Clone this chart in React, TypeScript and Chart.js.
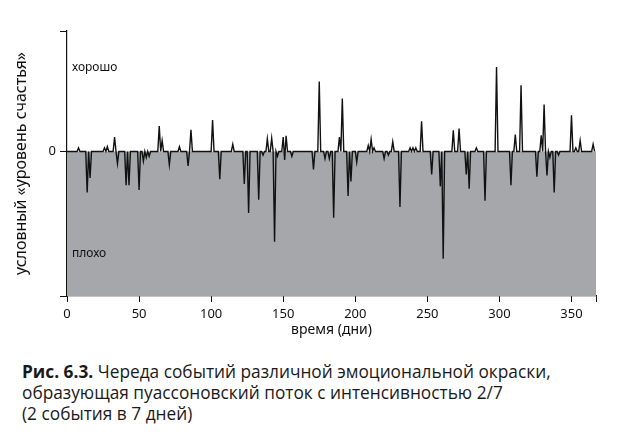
import React, { useEffect, useRef } from "react";
import { Chart, registerables } from "chart.js";

Chart.register(...registerables);

// Days on which an event happened and its emotional value
const eventDays = [
  8, 14, 16, 26, 28, 33, 35, 41, 43, 50, 53, 55, 57, 64, 66, 71, 78, 84, 86, 101,
  106, 115, 123, 126, 133, 136, 139, 142, 144, 146, 150, 151, 152, 156, 171, 175,
  179, 182, 185, 189, 191, 195, 197, 201, 209, 211, 213, 220, 223, 226, 231, 238,
  240, 242, 246, 253, 259, 261, 268, 272, 277, 279, 284, 290, 298, 308, 311, 315,
  326, 329, 331, 333, 335, 338, 341, 350, 353, 356, 365,
];
const eventValues = [
  0.3, -3.4, -2.2, 0.3, 0.4, 1.2, -1.0, -2.8, -2.8, -3.2, -0.8, -0.5, -0.4, 2.1, 0.9, -1.1, 0.4, -1.2, 1.8, 2.6,
  -2.3, 0.6, -2.7, -5.1, -4.0, -0.3, 1.05, 1.1, -7.5, -0.4, 1.2, -0.7, 1.3, -0.4, -1.5, 5.8,
  -0.6, -0.6, -5.5, 1.2, 4.4, -3.7, -2.5, -0.9, 0.5, 1.0, 0.3, -0.6, -0.3, 0.8, -4.6, 0.3,
  0.3, 0.3, 2.5, -1.9, -2.9, -8.9, 1.75, 1.9, -1.9, -3.1, 0.3, -4.1, 7.0, -2.8, 1.4, 5.5,
  -2.1, 1.35, 3.9, -2.0, -0.5, -3.4, -0.3, 3.0, 0.3, 0.9, 0.6,
];
const lastDay = 366;
const xMax = 367;
const yMin = -12;
const yMax = 10;
const xTickValues = [0, 50, 100, 150, 200, 250, 300, 350, 367];
const yTickValues = [-12, 0, 10];
const goodLabel = "хорошо";
const badLabel = "плохо";
const goodValue = 7.0;
const badValue = -8.5;

const AXIS_FONT = "'Noto Sans', 'Open Sans', sans-serif";

export default function App() {
  const ref = useRef<HTMLCanvasElement | null>(null);

  useEffect(() => {
    if (!ref.current) return;
    const lookup = new Map<number, number>();
    eventDays.forEach((d, i) => lookup.set(d, eventValues[i]));
    const linePts: { x: number; y: number }[] = [];
    for (let d = 0; d <= lastDay; d++) linePts.push({ x: d, y: lookup.get(d) ?? 0 });
    const grayPts = [
      { x: 0, y: 0 },
      { x: xMax, y: 0 },
    ];

    const labelPlugin = {
      id: "zoneLabels",
      afterDatasetsDraw(chart: any) {
        const { ctx, chartArea, scales } = chart;
        ctx.save();
        ctx.font = `12px ${AXIS_FONT}`;
        ctx.fillStyle = "#111";
        ctx.textBaseline = "middle";
        ctx.textAlign = "left";
        ctx.fillText(goodLabel, chartArea.left + 5, scales.y.getPixelForValue(goodValue));
        ctx.fillText(badLabel, chartArea.left + 5, scales.y.getPixelForValue(badValue));
        ctx.restore();
      },
    };

    const chart = new Chart(ref.current, {
      type: "line",
      data: {
        datasets: [
          {
            data: linePts,
            borderColor: "#111",
            borderWidth: 1.4,
            pointRadius: 0,
            tension: 0,
            fill: false,
          },
          {
            data: grayPts,
            borderWidth: 0,
            borderColor: "rgba(0,0,0,0)",
            backgroundColor: "rgb(165,167,170)",
            pointRadius: 0,
            fill: "start",
          },
        ],
      },
      options: {
        animation: false,
        responsive: false,
        maintainAspectRatio: false,
        layout: { padding: { top: 31, right: 24, left: 0, bottom: 0 } },
        plugins: {
          legend: { display: false },
          tooltip: { enabled: false },
        },
        scales: {
          x: {
            type: "linear",
            min: 0,
            max: xMax,
            afterBuildTicks: (s: any) => {
              s.ticks = xTickValues.map((v) => ({ value: v }));
            },
            afterFit: (s: any) => {
              s.height = 49;
            },
            ticks: {
              autoSkip: false,
              maxRotation: 0,
              padding: 4,
              color: "#111",
              font: { family: AXIS_FONT, size: 13 },
              callback: (v: any) => (v === xMax ? "" : String(v)),
            },
            grid: { drawOnChartArea: false, color: "#111", tickLength: 6, lineWidth: 1 },
            border: { display: true, color: "#111", width: 1.2 },
            title: {
              display: true,
              text: "время (дни)",
              color: "#111",
              font: { family: AXIS_FONT, size: 14 },
              padding: { top: 0, bottom: 7 },
            },
          },
          y: {
            type: "linear",
            min: yMin,
            max: yMax,
            afterBuildTicks: (s: any) => {
              s.ticks = yTickValues.map((v) => ({ value: v }));
            },
            afterFit: (s: any) => {
              s.width = 67;
            },
            ticks: {
              autoSkip: false,
              padding: 4,
              color: "#111",
              font: { family: AXIS_FONT, size: 13 },
              callback: (v: any) => (v === 0 ? "0" : ""),
            },
            grid: { drawOnChartArea: false, color: "#111", tickLength: 7, lineWidth: 1 },
            border: { display: true, color: "#111", width: 1.2 },
            title: {
              display: true,
              text: "условный «уровень счастья»",
              color: "#111",
              font: { family: AXIS_FONT, size: 16 },
              padding: { top: 12, bottom: 0 },
            },
          },
        },
      },
      plugins: [labelPlugin],
    });
    return () => chart.destroy();
  }, []);

  return (
    <div style={{ position: "fixed", left: 0, top: 0, width: 620, height: 446, background: "#fff" }}>
      <canvas ref={ref} width={620} height={345} style={{ display: "block", width: 620, height: 345 }} />
      <div
        style={{
          position: "absolute",
          left: 22,
          top: 361,
          fontFamily: "'Open Sans', 'Noto Sans', sans-serif",
          fontSize: 17.3,
          lineHeight: "21px",
          color: "#1a1a1a",
          whiteSpace: "nowrap",
        }}
      >
        <div>
          <b>Рис. 6.3.</b> Череда событий различной эмоциональной окраски,
        </div>
        <div>образующая пуассоновский поток с интенсивностью 2/7</div>
        <div>(2 события в 7 дней)</div>
      </div>
    </div>
  );
}
